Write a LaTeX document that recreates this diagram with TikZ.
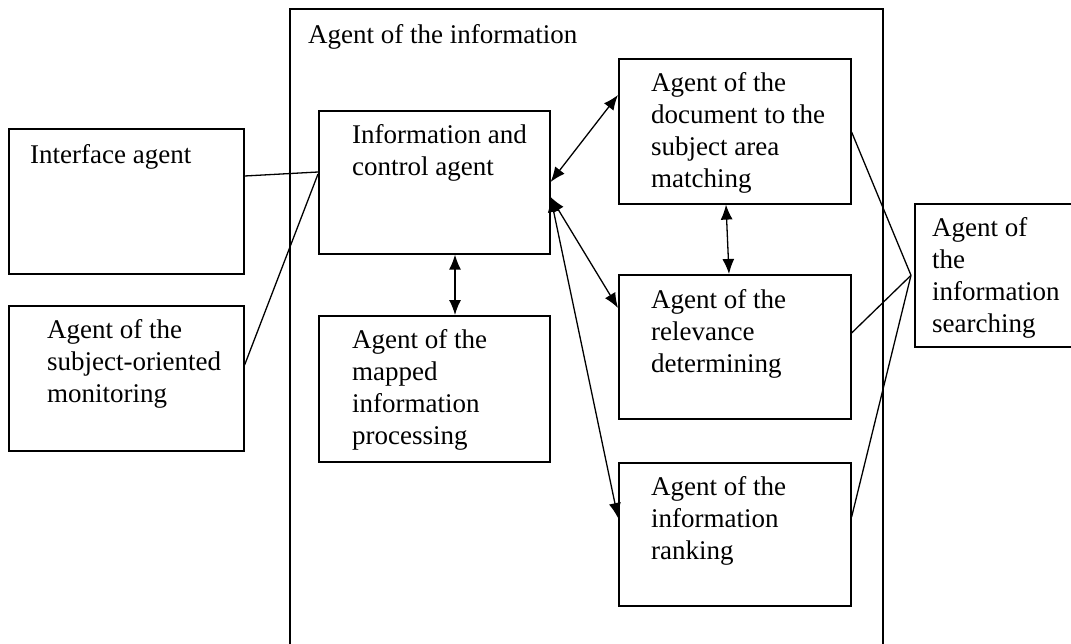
\documentclass[tikz,border=0pt]{standalone}
\usepackage{fontspec}
\setmainfont{Liberation Serif}
\usetikzlibrary{arrows.meta}

\begin{document}
\begin{tikzpicture}[%
    x=1pt, y=-1pt,
    agent/.style={%
        draw,
        rectangle,
        line width=1.6pt,
        inner sep=0pt,
        anchor=north west
    },
    agentText/.style={%
        anchor=north west,
        align=left,
        inner sep=0pt,
        font=\fontsize{27}{32}\selectfont
    },
    link/.style={%
        line width=1.3pt
    },
    >={Latex[length=15pt,width=12pt]}
]
\clip (0,0) rectangle (1071,643);

% Outer agent
    \node[agent, minimum width=593pt, minimum height=660pt] (infoAgent) at (289,8) {};
    \node[agentText] (infoAgentText) at (308,20.6) {\strut Agent of the information};

% Left side
    \node[agent, minimum width=235pt, minimum height=145pt] (interfaceAgent) at (8,128) {};
    \node[agentText] (interfaceText) at (30,140.6) {\strut Interface agent};
    \node[agent, minimum width=235pt, minimum height=145pt] (monitorAgent) at (8,305) {};
    \node[agentText] (monitorText) at (47,315.6) {\strut Agent of the\\subject-oriented\\monitoring};

% Control and mapped
    \node[agent, minimum width=231pt, minimum height=143pt] (controlAgent) at (318,110) {};
    \node[agentText] (controlText) at (352,120.6) {\strut Information and\\control agent};
    \node[agent, minimum width=231pt, minimum height=146pt] (mappedAgent) at (318,315) {};
    \node[agentText] (mappedText) at (352,325.6) {\strut Agent of the\\mapped\\information\\processing};

% Right column
    \node[agent, minimum width=232pt, minimum height=145pt] (matchingAgent) at (618,58) {};
    \node[agentText] (matchingText) at (651,68.6) {\strut Agent of the\\document to the\\subject area\\matching};
    \node[agent, minimum width=232pt, minimum height=144pt] (relevanceAgent) at (618,274) {};
    \node[agentText] (relevanceText) at (651,285.6) {\strut Agent of the\\relevance\\determining};
    \node[agent, minimum width=232pt, minimum height=143pt] (rankingAgent) at (618,462) {};
    \node[agentText] (rankingText) at (651,472.6) {\strut Agent of the\\information\\ranking};

% Searching agent
    \node[agent, minimum width=175pt, minimum height=143pt] (searchAgent) at (914,203) {};
    \node[agentText] (searchText) at (932,213.6) {\strut Agent of\\the\\information\\searching};

% Lines
\draw[link] ([yshift=-48pt]interfaceAgent.north east) -- ([yshift=-62pt]controlAgent.north west);
\draw[link] ([yshift=-60pt]monitorAgent.north east) -- ([yshift=-64pt]controlAgent.north west);

\draw[link, <->] ([yshift=-72pt]controlAgent.north east) -- ([yshift=-37pt]matchingAgent.north west);
\draw[link, <->] ([yshift=-87pt]controlAgent.north east) -- ([yshift=-34pt]relevanceAgent.north west);
\draw[link, <->] ([yshift=-87pt]controlAgent.north east) -- ([yshift=-56pt]rankingAgent.north west);

\draw[link, <->] ([xshift=137pt]controlAgent.south west) -- ([xshift=137pt]mappedAgent.north west);
\draw[link, <->] ([xshift=108pt]matchingAgent.south west) -- ([xshift=111pt]relevanceAgent.north west);

\draw[link] ([yshift=-74pt]matchingAgent.north east) -- ([xshift=-3pt]searchAgent.west);
\draw[link] ([yshift=-59pt]relevanceAgent.north east) -- ([xshift=-3pt]searchAgent.west);
\draw[link] ([yshift=-55pt]rankingAgent.north east) -- ([xshift=-3pt]searchAgent.west);

\end{tikzpicture}
\end{document}
